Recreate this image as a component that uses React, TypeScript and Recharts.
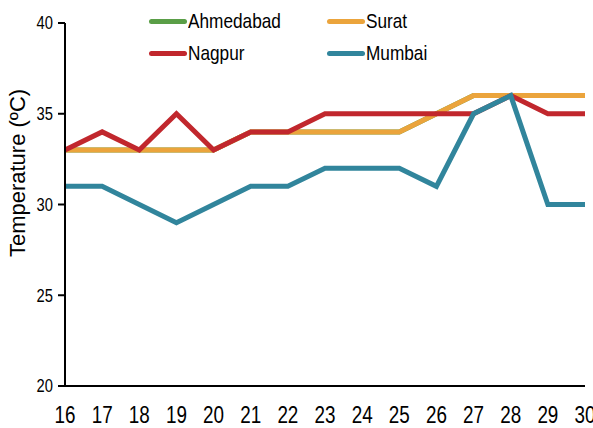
import React from 'react';
import { LineChart, Line, XAxis, YAxis, Label } from 'recharts';

const days = [16, 17, 18, 19, 20, 21, 22, 23, 24, 25, 26, 27, 28, 29, 30];
const ahmedabad = [33, 33, 33, 33, 33, 34, 34, 34, 34, 34, 35, 36, 36, 36, 36];
const surat = [33, 33, 33, 33, 33, 34, 34, 34, 34, 34, 35, 36, 36, 36, 36];
const nagpur = [33, 34, 33, 35, 33, 34, 34, 35, 35, 35, 35, 35, 36, 35, 35];
const mumbai = [31, 31, 30, 29, 30, 31, 31, 32, 32, 32, 31, 35, 36, 30, 30];
const yTicks = [20, 25, 30, 35, 40];

const series = [
  { key: 'Ahmedabad', color: '#5A9E47' },
  { key: 'Surat', color: '#EBA43C' },
  { key: 'Nagpur', color: '#C1272D' },
  { key: 'Mumbai', color: '#31859C' },
];

const data = days.map((d, i) => ({
  day: d,
  Ahmedabad: ahmedabad[i],
  Surat: surat[i],
  Nagpur: nagpur[i],
  Mumbai: mumbai[i],
}));

const font = '"Liberation Sans", Arial, sans-serif';
const squeeze = 0.82;

const LegendBox = () => (
  <div
    style={{
      position: 'absolute',
      left: 149,
      top: 9,
      display: 'grid',
      gridTemplateColumns: '178px 120px',
      rowGap: 8,
      fontFamily: font,
      fontSize: 21,
      color: '#000',
    }}
  >
    {series.map((s) => (
      <div key={s.key} style={{ display: 'flex', alignItems: 'center', height: 24 }}>
        <span
          style={{
            display: 'inline-block',
            width: 38,
            height: 5,
            borderRadius: 3,
            background: s.color,
            marginRight: 1,
            flexShrink: 0,
          }}
        />
        <span style={{ display: 'inline-block', transform: `scaleX(${squeeze})`, transformOrigin: 'left center', whiteSpace: 'nowrap' }}>
          {s.key}
        </span>
      </div>
    ))}
  </div>
);

const XTick = (props: any) => {
  const { x, y, payload } = props;
  return (
    <text transform={`translate(${x},${y}) scale(${squeeze},1)`} textAnchor="middle" dy="0.71em" fontSize={23} fontFamily={font} fill="#000">
      {payload.value}
    </text>
  );
};

const YTick = (props: any) => {
  const { x, y, payload } = props;
  return (
    <text transform={`translate(${x},${y}) scale(${squeeze},1)`} textAnchor="end" dy="0.355em" fontSize={18} fontFamily={font} fill="#000">
      {payload.value}
    </text>
  );
};

const YTitle = () => (
  <text
    x={25}
    y={173}
    transform="rotate(-90 25 173)"
    textAnchor="middle"
    fontSize={22}
    fontFamily={font}
    fill="#000"
  >
    Temperature (ºC)
  </text>
);

export default function App() {
  return (
    <div style={{ position: 'absolute', left: 0, top: 0, width: 593, height: 428, background: '#fff' }}>
      <LineChart width={593} height={428} data={data} margin={{ top: 23, right: 8, bottom: 0, left: 0 }}>
        <XAxis
          dataKey="day"
          height={42}
          axisLine={{ stroke: '#000', strokeWidth: 2 }}
          tickLine={false}
          tickSize={0}
          tickMargin={21}
          interval={0}
          tick={<XTick />}
        />
        <YAxis
          width={65}
          domain={[20, 40]}
          ticks={yTicks}
          axisLine={{ stroke: '#000', strokeWidth: 2 }}
          tickLine={{ stroke: '#000', strokeWidth: 2 }}
          tickSize={7}
          tickMargin={5}
          tick={<YTick />}
        >
          <Label content={<YTitle />} />
        </YAxis>
        {series.map((s) => (
          <Line
            key={s.key}
            type="linear"
            dataKey={s.key}
            stroke={s.color}
            strokeWidth={5}
            dot={false}
            activeDot={false}
            isAnimationActive={false}
          />
        ))}
      </LineChart>
      <LegendBox />
    </div>
  );
}
